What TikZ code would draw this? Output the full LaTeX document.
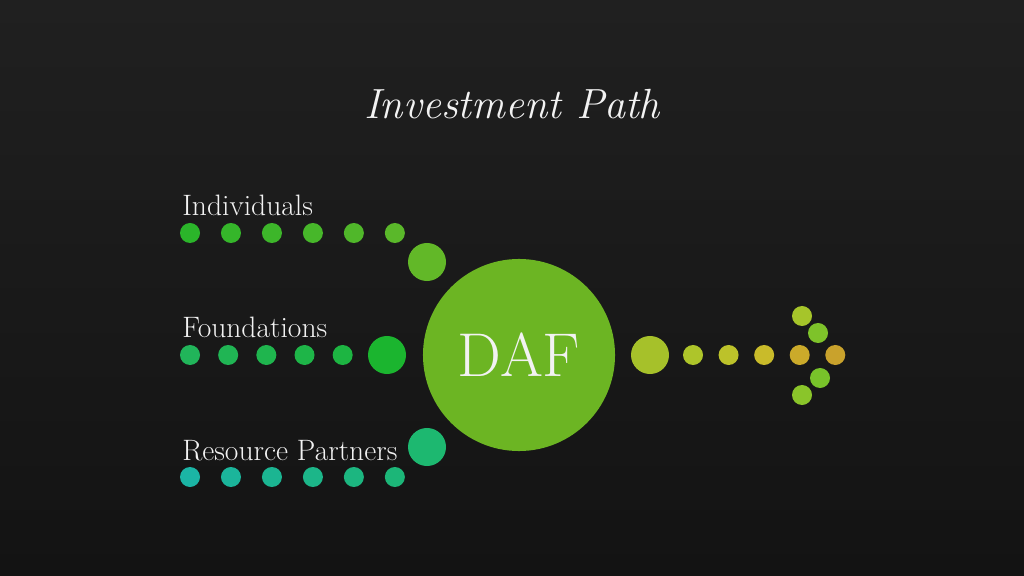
\documentclass[tikz,border=0pt]{standalone}
\usepackage{tikz}
\usetikzlibrary{positioning}
\definecolor{colorBackTop}{HTML}{202020}
\definecolor{colorBackBottom}{HTML}{131313}
\definecolor{colorText}{HTML}{F2F2F2}
\definecolor{colorDaf}{HTML}{6CB523}
% individuals row
\definecolor{colorIndA}{HTML}{2BB52A}
\definecolor{colorIndB}{HTML}{35B62A}
\definecolor{colorIndC}{HTML}{3DB62A}
\definecolor{colorIndD}{HTML}{47B72A}
\definecolor{colorIndE}{HTML}{50B72A}
\definecolor{colorIndF}{HTML}{5AB82A}
\definecolor{colorIndBig}{HTML}{62B828}
% foundations row
\definecolor{colorFouA}{HTML}{21B55A}
\definecolor{colorFouB}{HTML}{20B554}
\definecolor{colorFouC}{HTML}{1FB54E}
\definecolor{colorFouD}{HTML}{1EB548}
\definecolor{colorFouE}{HTML}{1DB542}
\definecolor{colorFouBig}{HTML}{1BB52F}
% resource partners row
\definecolor{colorResA}{HTML}{1BB5A5}
\definecolor{colorResB}{HTML}{1BB59B}
\definecolor{colorResC}{HTML}{1BB592}
\definecolor{colorResD}{HTML}{1CB689}
\definecolor{colorResE}{HTML}{1CB680}
\definecolor{colorResF}{HTML}{1CB678}
\definecolor{colorResBig}{HTML}{1DB870}
% outgoing arrow
\definecolor{colorOutBig}{HTML}{A6C12A}
\definecolor{colorOutA}{HTML}{AEC52A}
\definecolor{colorOutB}{HTML}{BCC22A}
\definecolor{colorOutC}{HTML}{C9BB2A}
\definecolor{colorOutD}{HTML}{CBAA2A}
\definecolor{colorOutE}{HTML}{C9A22C}
\definecolor{colorTipA}{HTML}{A6C52A}
\definecolor{colorTipB}{HTML}{7EC32A}
\definecolor{colorTipC}{HTML}{78C32A}
\definecolor{colorTipD}{HTML}{8AC52A}
\tikzset{
  dot/.style={circle, inner sep=0pt, minimum size=0.5cm},
  bigdot/.style={circle, inner sep=0pt, minimum size=0.95cm},
  rowlabel/.style={anchor=base west, inner sep=0pt, text=colorText, font=\fontsize{21}{24}\selectfont},
}

\begin{document}
\begin{tikzpicture}[x=0.025cm, y=-0.025cm, node distance=0.51cm]
\fill[top color=colorBackTop, bottom color=colorBackBottom] (0,0) rectangle (1024,576);
\useasboundingbox (0,0) rectangle (1024,576);
\node[text=colorText, font=\fontsize{30}{34}\selectfont\itshape] (title) at (512,104) {Investment Path};
\node[circle, fill=colorDaf, minimum size=4.8cm, inner sep=0pt, text=colorText, font=\fontsize{44}{48}\selectfont] (daf) at (519,355) {DAF};
% individuals
\node[rowlabel] (ind) at (182,216) {Individuals};
\node[dot, fill=colorIndA] (i1) at (190,233) {};
\node[dot, fill=colorIndB, right=of i1] (i2) {};
\node[dot, fill=colorIndC, right=of i2] (i3) {};
\node[dot, fill=colorIndD, right=of i3] (i4) {};
\node[dot, fill=colorIndE, right=of i4] (i5) {};
\node[dot, fill=colorIndF, right=of i5] (i6) {};
\node[bigdot, fill=colorIndBig] (ibig) at (427,262) {};
% foundations
\node[rowlabel] (fou) at (182,338) {Foundations};
\node[dot, fill=colorFouA] (f1) at (190,355) {};
\node[dot, fill=colorFouB, right=0.44cm of f1] (f2) {};
\node[dot, fill=colorFouC, right=0.44cm of f2] (f3) {};
\node[dot, fill=colorFouD, right=0.44cm of f3] (f4) {};
\node[dot, fill=colorFouE, right=0.44cm of f4] (f5) {};
\node[bigdot, fill=colorFouBig] (fbig) at (387,355) {};
% resource partners
\node[rowlabel] (res) at (182,460) {Resource Partners};
\node[dot, fill=colorResA] (r1) at (190,477) {};
\node[dot, fill=colorResB, right=of r1] (r2) {};
\node[dot, fill=colorResC, right=of r2] (r3) {};
\node[dot, fill=colorResD, right=of r3] (r4) {};
\node[dot, fill=colorResE, right=of r4] (r5) {};
\node[dot, fill=colorResF, right=of r5] (r6) {};
\node[bigdot, fill=colorResBig] (rbig) at (427,447) {};
% outgoing arrow
\node[bigdot, fill=colorOutBig] (obig) at (650,355) {};
\node[dot, fill=colorOutA] (o1) at (693,355) {};
\node[dot, fill=colorOutB, right=0.375cm of o1] (o2) {};
\node[dot, fill=colorOutC, right=0.375cm of o2] (o3) {};
\node[dot, fill=colorOutD, right=0.375cm of o3] (o4) {};
\node[dot, fill=colorOutE, right=0.375cm of o4] (o5) {};
\node[dot, fill=colorTipA] (t1) at (802,316) {};
\node[dot, fill=colorTipB] (t2) at (818,333) {};
\node[dot, fill=colorTipC] (t3) at (820,378) {};
\node[dot, fill=colorTipD] (t4) at (802,395) {};
\end{tikzpicture}
\end{document}
